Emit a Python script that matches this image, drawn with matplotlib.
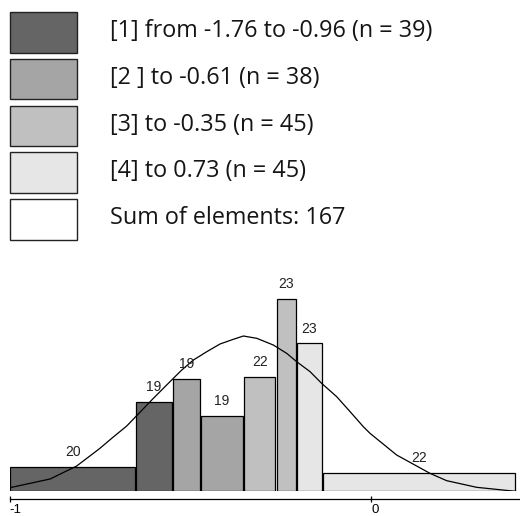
import numpy as np
import matplotlib.pyplot as plt
from matplotlib.patches import Rectangle

# Classes shown in the legend
class_labels = ["[1] from -1.76 to -0.96 (n = 39)",
                "[2 ] to -0.61 (n = 38)",
                "[3] to -0.35 (n = 45)",
                "[4] to 0.73 (n = 45)"]
class_colors = ["#656565", "#a5a5a5", "#c0c0c0", "#e6e6e6"]
sum_label = "Sum of elements: 167"

# Histogram bars (edges in data units, heights as densities)
bin_edges = [-1.76, -1.14, -0.96, -0.82, -0.61, -0.45, -0.35, -0.22, 0.73]
bar_counts = [20, 19, 19, 19, 22, 23, 23, 22]
bar_heights = [29.6, 107.6, 134.8, 90.4, 137.6, 231.2, 177.6, 22.0]
bar_class = [0, 0, 1, 1, 2, 2, 3, 3]

# Fitted curve
curve_x = [-1.758, -1.561, -1.430, -1.316, -1.258, -1.184, -1.143, -1.053,
           -0.963, -0.913, -0.856, -0.790, -0.725, -0.660, -0.610, -0.544,
           -0.463, -0.397, -0.348, -0.282, -0.225, -0.151, -0.085, -0.020,
           0.013, 0.144, 0.308, 0.390, 0.538, 0.730]
curve_y = [4.4, 14.8, 30.4, 51.6, 63.6, 78.4, 88.8, 111.6,
           133.6, 145.6, 157.6, 167.6, 176.8, 182.4, 186.4, 183.6,
           175.6, 165.6, 155.6, 143.6, 129.6, 113.6, 95.6, 77.6,
           69.6, 43.6, 21.6, 12.8, 4.8, 0.0]

# Axis ticks
tick_pos = [-1.76, 0.02]
tick_labels = ["-1", "0"]

W, H = 520, 516
fig = plt.figure(figsize=(W / 100, H / 100), dpi=100)

# Legend drawn on an overlay in pixel coordinates
leg = fig.add_axes([0, 0, 1, 1])
leg.set_xlim(0, W)
leg.set_ylim(H, 0)
leg.axis("off")
row_y = [12, 58.8, 105.6, 152.4, 199.2]
for i, lab in enumerate(class_labels + [sum_label]):
    col = class_colors[i] if i < len(class_colors) else "white"
    leg.add_patch(Rectangle((10, row_y[i]), 67, 40.5, facecolor=col,
                            edgecolor="#222222", linewidth=1.0))
    leg.text(110, row_y[i] + 19, lab, va="center", ha="left",
             fontsize=16.8, family="Open Sans", color="#151515")

# Histogram axes
x0 = 9.67
base = 491.33
ax = fig.add_axes([x0 / W, (H - base) / H, 1 - x0 / W, 221.33 / H])
ax.patch.set_alpha(0)

gap = 0.006
lefts = np.array(bin_edges[:-1])
widths = np.diff(bin_edges)
colors = [class_colors[c] for c in bar_class]
ax.bar(lefts + gap / 2, bar_heights, width=widths - gap, align="edge",
       color=colors, edgecolor="black", linewidth=0.9)

for l, w, h, n in zip(lefts, widths, bar_heights, bar_counts):
    ax.annotate(str(n), (l + w / 2, h), xytext=(0, 10.5), textcoords="offset points",
                ha="center", va="center", fontsize=10, family="Liberation Sans",
                color="#222222")

ax.plot(curve_x, curve_y, color="black", linewidth=0.9)

ax.set_xlim(-1.76, 0.751)
ax.set_ylim(0, 265.6)
for s in ["top", "right", "left"]:
    ax.spines[s].set_visible(False)
ax.spines["bottom"].set_position(("outward", 5.3))
ax.spines["bottom"].set_linewidth(0.9)
ax.set_yticks([])
ax.set_xticks(tick_pos)
ax.set_xticklabels(tick_labels, fontsize=9.5, family="Liberation Sans")
ax.tick_params(axis="x", direction="inout", length=5, width=0.9, pad=1)
for lbl in ax.get_xticklabels():
    lbl.set_ha("left")

fig.savefig("out.png", dpi=100)
